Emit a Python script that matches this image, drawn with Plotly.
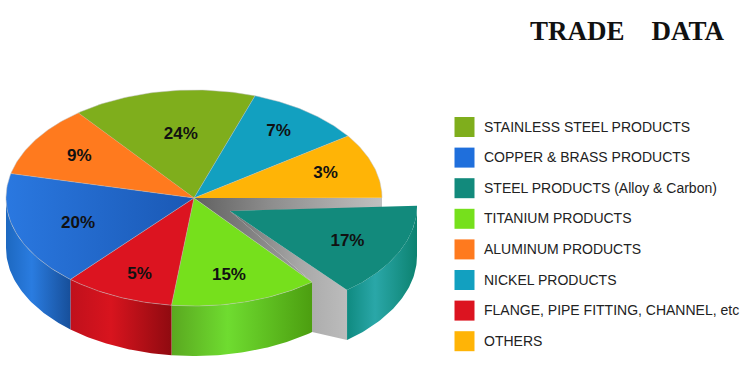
import numpy as np
import plotly.graph_objects as go

# ---- data ----
categories = ["STAINLESS STEEL PRODUCTS", "COPPER & BRASS PRODUCTS", "STEEL PRODUCTS (Alloy & Carbon)",
              "TITANIUM PRODUCTS", "ALUMINUM PRODUCTS", "NICKEL PRODUCTS",
              "FLANGE, PIPE FITTING, CHANNEL, etc", "OTHERS"]
percent_labels = [24, 20, 17, 15, 9, 7, 5, 3]
# the reference's slices are not drawn to scale: these are the shares as they appear (in %)
apparent_share = [15.8, 17.2, 14.2, 12.7, 10.8, 10.0, 9.5, 9.7]
legend_colors = ["#7fae1c", "#1f6fdc", "#128a7c", "#76e01c", "#ff7a1e", "#12a0c0", "#dc1420", "#ffb406"]

# ---- drawing configuration ----
ring_order = [0, 5, 7, 2, 3, 6, 1, 4]     # clockwise, from the top left
START_T = 128.0
CX, CY, RX, RY, DEPTH = 194.0, 198.0, 188.0, 108.0, 50.0
PULL = (35.0, 8.0)
PULLED = 2
APEX_EXTRA = (1.0, 5.0)
label_xy = {0: (-.07, .60), 5: (.45, .63), 7: (.70, .24), 2: (.63, -.31),
            3: (.186, -.70), 6: (-.29, -.69), 1: (-.617, -.22), 4: (-.61, .40)}
wall_scales = {
    3: ["#5aa820", "#6fdc30", "#4c9e10"],
    6: ["#c0101c", "#d8141e", "#8f0a10"],
    1: ["#1d68c0", "#2a7ce0", "#174f9a"],
    2: ["#0f8a80", "#2aa7a8", "#0c8270"],
}
FONT = "Liberation Sans"


def pt(t, dx=0.0, dy=0.0):
    t = np.radians(t)
    return CX + RX * np.cos(t) + dx, CY - RY * np.sin(t) + dy


def arc(t1, t2, dx=0.0, dy=0.0, n=50):
    ts = np.linspace(t1, t2, n)
    return pt(ts, dx, dy)


def scale3(cols):
    return [[0, cols[0]], [0.4, cols[1]], [1, cols[2]]]


def poly(x, y, color=None, grad=None, line=None):
    kw = dict(x=list(x), y=list(y), mode="lines", fill="toself", hoverinfo="skip",
              showlegend=False, line=dict(width=0, color="rgba(0,0,0,0)"))
    if line:
        kw["line"] = dict(width=0.8, color=line)
    if grad:
        kw["fillgradient"] = dict(type="horizontal", colorscale=grad)
    else:
        kw["fillcolor"] = color
    fig.add_trace(go.Scatter(**kw))


fig = go.Figure()

# slice spans
share_total = sum(apparent_share)
spans, t = {}, START_T
for i in ring_order:
    t2 = t - apparent_share[i] / share_total * 360
    spans[i] = (t, t2)
    t = t2

p1, p2 = spans[PULLED]
ax, ay = CX + PULL[0] + APEX_EXTRA[0], CY + PULL[1] + APEX_EXTRA[1]
c1 = pt(p1, *PULL)
c2 = pt(p2, *PULL)
m1 = pt(p1)
m2 = pt(p2)

# grey hollow left in the pie by the pulled slice
poly([CX, m1[0], m1[0], c1[0], ax, m2[0]], [CY, m1[1], m1[1] + DEPTH * .2, c1[1] + 1, ay, m2[1]],
     grad=[[0, "#606060"], [0.35, "#8e8e8e"], [1, "#d0d0d0"]])

# cut face of the pulled slice
poly([ax, c2[0], c2[0], m2[0], m2[0]], [ay, c2[1], c2[1] + DEPTH, m2[1] + DEPTH, m2[1]],
     grad=[[0, "#707070"], [0.6, "#a8a8a8"], [1, "#bcbcbc"]])

# walls of the main pie
for i in ring_order:
    if i not in wall_scales or i == PULLED:
        continue
    a, b = spans[i]
    b = max(b, -180)
    x1, y1 = arc(a, b)
    x2, y2 = arc(b, a, 0, DEPTH)
    poly(np.r_[x1, x2], np.r_[y1, y2], grad=scale3(wall_scales[i]))

# tops of the main pie
for i in ring_order:
    if i == PULLED:
        continue
    a, b = spans[i]
    x, y = arc(a, b)
    xs, ys = np.r_[CX, x], np.r_[CY, y]
    if i == 1:
        poly(xs, ys, grad=[[0, "#2a78e0"], [1, "#1a58b4"]], line="rgba(190,190,190,.6)")
    else:
        poly(xs, ys, color=legend_colors[i], line="rgba(190,190,190,.6)")

# pulled slice
x1, y1 = arc(p1, p2, *PULL)
x2, y2 = arc(p2, p1, PULL[0], PULL[1] + DEPTH)
poly(np.r_[x1, x2], np.r_[y1, y2], grad=scale3(wall_scales[PULLED]))
poly(np.r_[ax, x1], np.r_[ay, y1], color=legend_colors[PULLED])

# percentages
lx, ly, lt = [], [], []
for i in ring_order:
    fx, fy = label_xy[i]
    dx, dy = PULL if i == PULLED else (0, 0)
    lx.append(CX + RX * fx + dx)
    ly.append(CY - RY * fy + dy + 2)
    lt.append(f"{percent_labels[i]}%")
fig.add_trace(go.Scatter(x=lx, y=ly, text=lt, mode="text", textposition="middle center", hoverinfo="skip",
                         showlegend=False, textfont=dict(family=FONT, size=17, color="#111111", weight="bold")))

# legend
row_y = [127 + 30.6 * k for k in range(len(categories))]
fig.add_trace(go.Scatter(x=[464.5] * len(categories), y=row_y, mode="markers", hoverinfo="skip", showlegend=False,
                         marker=dict(symbol="square", size=20, color=legend_colors, line=dict(width=0))))
fig.add_trace(go.Scatter(x=[484] * len(categories), y=[v + 1 for v in row_y], text=categories, mode="text",
                         textposition="middle right", hoverinfo="skip", showlegend=False,
                         textfont=dict(family=FONT, size=14, color="#222222")))

fig.update_layout(
    width=750, height=370, margin=dict(l=0, r=0, t=0, b=0),
    paper_bgcolor="white", plot_bgcolor="white", showlegend=False,
    xaxis=dict(range=[0, 750], visible=False, fixedrange=True),
    yaxis=dict(range=[370, 0], visible=False, fixedrange=True),
    title=dict(text="<b>TRADE\u00a0\u00a0\u00a0\u00a0DATA</b>", x=724 / 750, xanchor="right", y=0.918,
               yanchor="middle", font=dict(family="Liberation Serif", size=27, color="#111111")),
)
fig.write_html("out.html", config=dict(displayModeBar=False),
               post_script="document.body.style.margin='0';document.body.style.overflow='hidden';")
